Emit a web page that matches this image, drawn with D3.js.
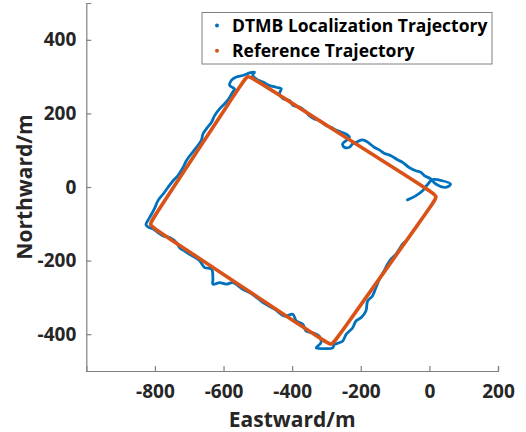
<!DOCTYPE html>
<html>
<head>
<meta charset="utf-8">
<script src="https://cdn.jsdelivr.net/npm/d3@7"></script>
<style>
  body { margin: 0; background: #fff; }
  svg { display: block; font-family: "Open Sans", "Noto Sans", sans-serif; }
</style>
</head>
<body>
<svg width="526" height="432" viewBox="0 0 526 432"></svg>
<script>
// input data (metres, east / north)
const xTicks = [-800, -600, -400, -200, 0, 200];
const yTicks = [-400, -200, 0, 200, 400];
const seriesNames = ['DTMB Localization Trajectory', 'Reference Trajectory'];

// DTMB estimate
const dtmbEast = [
  -64, -40, -20, -6, 9, 38, 62, 48, 19, 4, -15, -25, -40, -59, -78, -93, -112, -132, -146, -161,
  -180, -195, -210, -224, -233, -248, -253, -243, -233, -243, -258, -272, -287, -301, -321, -335, -350, -364, -379, -398,
  -408, -427, -437, -432, -447, -466, -485, -505, -515, -510, -524, -544, -563, -577, -582, -568, -573, -582, -592, -611,
  -626, -635, -650, -660, -665, -679, -694, -708, -718, -733, -747, -762, -776, -791, -800, -810, -820, -826, -815, -805,
  -791, -776, -757, -737, -728, -713, -699, -669, -655, -635, -631, -631, -611, -592, -573, -544, -515, -485, -451, -422,
  -398, -388, -369, -359, -340, -321, -316, -330, -311, -282, -277, -253, -243, -224, -214, -199, -185, -180, -166, -156,
  -146, -132, -122, -112, -98, -88, -78, -69,
];
const dtmbNorth = [
  -35, -24, -10, 6, 20, 17, 8, -1, 8, 22, 31, 40, 44, 53, 67, 74, 85, 92, 101, 108,
  122, 128, 123, 117, 108, 108, 117, 126, 135, 144, 149, 155, 162, 167, 181, 185, 194, 208, 217, 222,
  235, 240, 253, 267, 271, 276, 285, 294, 303, 312, 310, 303, 299, 290, 276, 267, 258, 244, 231, 213,
  194, 176, 158, 144, 126, 108, 90, 72, 53, 31, 17, -1, -19, -37, -56, -74, -90, -103, -111, -114,
  -124, -133, -137, -151, -165, -174, -183, -201, -219, -223, -251, -264, -260, -264, -260, -278, -292, -314, -332, -351,
  -346, -364, -373, -392, -396, -405, -423, -437, -439, -437, -428, -419, -401, -383, -364, -355, -337, -310, -296, -274,
  -251, -228, -210, -196, -183, -169, -155, -148,
];

// reference route: closed loop, extra points hug each corner
const refEast = [-530, -509, 4, 25, 10, -270, -285, -306, -797, -818, -804, -544];
const refNorth = [305, 292, -12, -25, -45, -412, -432, -419, -116, -103, -83, 285];

const colors = ['#0072BD', '#D95319'];

const svg = d3.select('svg');
const axisColor = '#808080';
const textColor = '#262626';

const x = d3.scaleLinear().domain([-1000, 200]).range([86.3, 498]);
const y = d3.scaleLinear().domain([-500, 500]).range([371, 3]);

// axes, MATLAB style: ticks inside, box off, plain hyphen for negatives
const fmt = d => String(d);
const xAxis = svg.append('g')
  .attr('transform', `translate(0 ${y(-500)})`)
  .call(d3.axisBottom(x).tickValues(xTicks).tickFormat(fmt).tickSize(-5).tickPadding(14));
const yAxis = svg.append('g')
  .attr('transform', `translate(${x(-1000)} 0)`)
  .call(d3.axisLeft(y).tickValues(yTicks).tickFormat(fmt).tickSize(-5).tickPadding(10));

[xAxis, yAxis].forEach(a => {
  a.select('.domain').attr('stroke', axisColor).attr('stroke-width', 1.2);
  a.selectAll('.tick line').attr('stroke', axisColor).attr('stroke-width', 1.2);
  a.selectAll('.tick text')
    .attr('fill', textColor)
    .attr('font-size', 19)
    .attr('font-weight', 700)
    .attr('font-family', '"Open Sans", sans-serif');
});

// trajectories
const dtmb = d3.zip(dtmbEast, dtmbNorth);
const ref = d3.zip(refEast, refNorth);

const plot = svg.append('g');

plot.append('path')
  .datum(dtmb)
  .attr('d', d3.line().x(d => x(d[0])).y(d => y(d[1])).curve(d3.curveCatmullRom))
  .attr('fill', 'none')
  .attr('stroke', colors[0])
  .attr('stroke-width', 2.8)
  .attr('stroke-linejoin', 'round')
  .attr('stroke-linecap', 'round');

plot.append('path')
  .datum(ref)
  .attr('d', d3.line().x(d => x(d[0])).y(d => y(d[1])).curve(d3.curveBasisClosed))
  .attr('fill', 'none')
  .attr('stroke', colors[1])
  .attr('stroke-width', 3.6)
  .attr('stroke-linejoin', 'round');

// axis labels
svg.append('text')
  .attr('x', (x(-1000) + x(200)) / 2)
  .attr('y', 427)
  .attr('text-anchor', 'middle')
  .attr('font-size', 21)
  .attr('font-weight', 700)
  .attr('fill', textColor)
  .text('Eastward/m');

svg.append('text')
  .attr('transform', `translate(32 ${(y(-500) + y(500)) / 2}) rotate(-90)`)
  .attr('text-anchor', 'middle')
  .attr('font-size', 21)
  .attr('font-weight', 700)
  .attr('fill', textColor)
  .text('Northward/m');

// legend
const legend = svg.append('g').attr('transform', 'translate(202 12.5)');
legend.append('rect')
  .attr('width', 290)
  .attr('height', 51.5)
  .attr('fill', '#fff')
  .attr('stroke', axisColor)
  .attr('stroke-width', 1);

const rows = legend.selectAll('g.row')
  .data(seriesNames)
  .enter()
  .append('g')
  .attr('class', 'row')
  .attr('transform', (d, i) => `translate(0 ${13 + i * 25.3})`);

rows.append('circle')
  .attr('cx', 15)
  .attr('cy', 0)
  .attr('r', 2)
  .attr('fill', (d, i) => colors[i]);

rows.append('text')
  .attr('x', 30)
  .attr('y', 0)
  .attr('dy', '0.35em')
  .attr('font-size', 17.5)
  .attr('font-weight', 700)
  .attr('fill', '#000')
  .text(d => d);
</script>
</body>
</html>
